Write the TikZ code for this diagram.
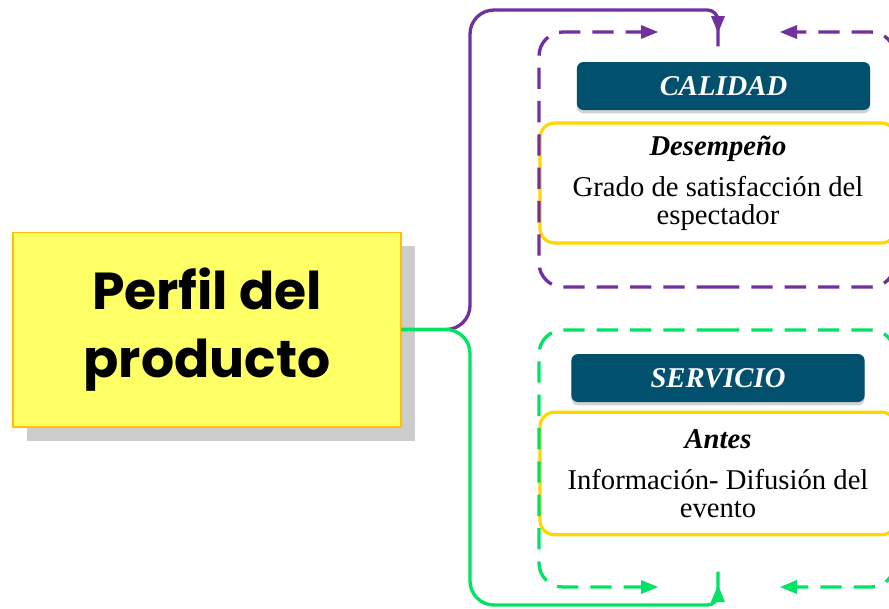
\documentclass[tikz,border=0pt]{standalone}
\usepackage{fontspec}
\setmainfont{Liberation Serif}
\newfontfamily\titlefont{Poppins}
\usetikzlibrary{shadows}
\definecolor{purp}{HTML}{7030A0}
\definecolor{grn}{HTML}{00E364}
\definecolor{hdrblue}{HTML}{00506E}
\definecolor{boxgold}{HTML}{FFD600}
\definecolor{titlefill}{HTML}{FFFF66}
\definecolor{titleedge}{HTML}{FFC000}

\begin{document}
\begin{tikzpicture}[x=0.75pt,y=-0.75pt]
\tikzstyle{every node}+=[inner sep=0pt]
\tikzstyle{title}=[fill=titlefill, draw=titleedge, line width=1pt, minimum width=291pt, minimum height=146pt, align=center, font=\titlefont\bfseries\fontsize{39}{51}\selectfont, drop shadow={fill=black!20, opacity=1, shadow xshift=10.5pt, shadow yshift=-10.5pt}]
\tikzstyle{hdr}=[rounded corners=5pt, fill=hdrblue, minimum width=220pt, minimum height=36pt, text=white, font=\fontsize{21.5}{24}\selectfont\bfseries\itshape, drop shadow={opacity=0.35, shadow xshift=0pt, shadow yshift=-2.5pt}]
\tikzstyle{infobox}=[rounded corners=11pt, draw=boxgold, line width=2.4pt, fill=white, minimum width=267pt, align=center, font=\fontsize{21.5}{21}\selectfont]
\tikzstyle{link}=[line width=2.5pt, rounded corners=18pt]
\tikzstyle{loop}=[line width=2.5pt, dash pattern=on 16pt off 9pt, rounded corners=18pt]
\useasboundingbox (0,0) rectangle (889,608);
\clip (0,0) rectangle (889,608);
\node[title] (perfil) at (207,329.5) {Perfil del\\producto};
\node[hdr] (calidad) at (723.5,86) {CALIDAD};
\node[infobox, minimum height=90pt] (desemp) at (718,183) {{\bfseries\itshape Desempeño}\\[10pt]Grado de satisfacción del\\espectador};
\node[hdr] (servicio) at (718,378) {SERVICIO};
\node[infobox, minimum height=92pt] (antes) at (718,473.5) {{\bfseries\itshape Antes}\\[10pt]Información- Difusión del\\evento};
\coordinate (calin) at (718,33);
\coordinate (servin) at (718,585);
\draw[link, purp] (perfil.east) -| (470,10) [rounded corners=8pt] -- (718,10) -- ([yshift=-10pt]calin);
\fill[purp] (calin) -- ++(-7,-17) -- ++(14,0) -- cycle;
\draw[link, grn] (perfil.east) -| (470,605) [rounded corners=8pt] -- (718,605) -- ([yshift=10pt]servin);
\fill[grn] (servin) -- ++(-7,17) -- ++(14,0) -- cycle;
\draw[loop, purp] (718,287) -- (539,287) -- (539,32) -- (646,32);
\fill[purp] (658,32) -- ++(-17,-7) -- ++(0,14) -- cycle;
\draw[loop, purp] (718,287) -- (895,287) -- (895,32) -- (792,32);
\fill[purp] (780,32) -- ++(17,-7) -- ++(0,14) -- cycle;
\draw[loop, grn] (718,330) -- (539,330) -- (539,587) -- (646,587);
\fill[grn] (658,587) -- ++(-17,-7) -- ++(0,14) -- cycle;
\draw[loop, grn] (718,330) -- (895,330) -- (895,587) -- (792,587);
\fill[grn] (780,587) -- ++(17,-7) -- ++(0,14) -- cycle;
\end{tikzpicture}
\end{document}
